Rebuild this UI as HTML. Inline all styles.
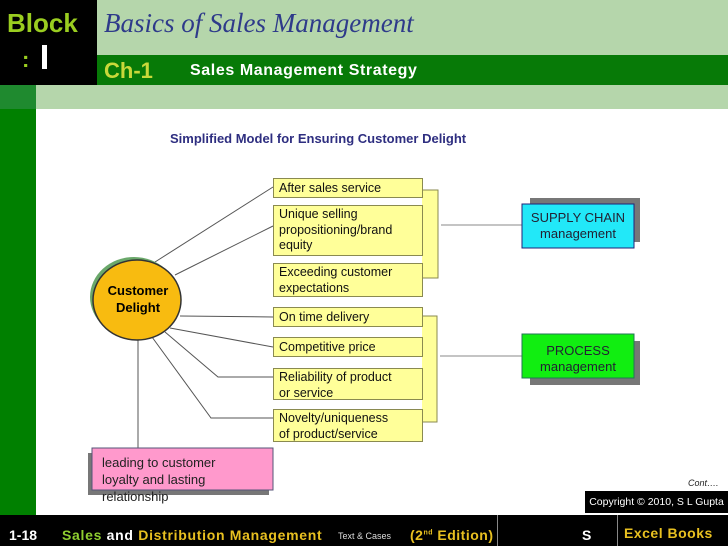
<!DOCTYPE html>
<html><head><style>
body{margin:0;width:728px;height:546px;overflow:hidden;position:relative;background:#fff;font-family:"Liberation Sans",sans-serif}
.a{position:absolute}
.box{position:absolute;background:#ffff99;border:1px solid #8a8a50;font-size:12.5px;line-height:15.5px;padding-left:5px;box-sizing:border-box;color:#111}
.f{position:absolute;top:527px;font-size:14px;font-weight:bold;white-space:nowrap}
</style></head><body>
<div class="a" style="left:0;top:0;width:728px;height:109px;background:#b5d6ab"></div>
<div class="a" style="left:0;top:0;width:97px;height:85px;background:#000"></div>
<div class="a" style="left:97px;top:55px;width:631px;height:30px;background:#077a07"></div>
<div class="a" style="left:0;top:85px;width:36px;height:24px;background:#1f8a2f"></div>
<div class="a" style="left:0;top:109px;width:36px;height:406px;background:#008000"></div>
<div class="a" style="left:7px;top:8px;font-size:26px;font-weight:bold;color:#9acd20">Block</div>
<div class="a" style="left:22px;top:47px;font-size:22px;font-weight:bold;color:#9acd20">:</div>
<div class="a" style="left:42px;top:45px;width:5px;height:24px;background:#fff"></div>
<div class="a" style="left:104px;top:8px;font-size:27px;font-style:italic;font-family:'Liberation Serif',serif;color:#2e3a8a">Basics of Sales Management</div>
<div class="a" style="left:104px;top:58px;font-size:22px;font-weight:bold;color:#c8d83a">Ch-1</div>
<div class="a" style="left:190px;top:62px;font-size:16px;font-weight:bold;color:#fff;letter-spacing:0.6px">Sales Management Strategy</div>
<div class="a" style="left:170px;top:131px;font-size:13px;font-weight:bold;color:#2e2e80">Simplified Model for Ensuring Customer Delight</div>

<svg class="a" style="left:0;top:0" width="728" height="546">
<g stroke="#555" stroke-width="1" fill="none">
<line x1="155" y1="262" x2="273" y2="187"/>
<line x1="175" y1="275" x2="273" y2="226"/>
<line x1="180" y1="316" x2="273" y2="317"/>
<line x1="170" y1="328" x2="273" y2="347"/>
<polyline points="165,332 218,377 273,377"/>
<polyline points="152,337 211,418 273,418"/>
<line x1="138" y1="340" x2="138" y2="448"/>
<line x1="441" y1="225" x2="522" y2="225" stroke="#888"/>
<line x1="440" y1="356" x2="522" y2="356" stroke="#888"/>
</g>
<path d="M422,190 H438 V278 H422" fill="#ffff99" stroke="#8a8a50"/>
<path d="M422,316 H437 V422 H422" fill="#ffff99" stroke="#8a8a50"/>
<ellipse cx="134" cy="297" rx="44" ry="40" fill="#6aa86a"/>
<ellipse cx="137" cy="300" rx="44" ry="40" fill="#f8bb10" stroke="#333" stroke-width="1.5"/>
<rect x="530" y="198" width="110" height="44" fill="#777"/>
<rect x="522" y="204" width="112" height="44" fill="#22e8f8" stroke="#227"/>
<rect x="530" y="341" width="110" height="44" fill="#777"/>
<rect x="522" y="334" width="112" height="44" fill="#11ee11" stroke="#275"/>
<rect x="88" y="453" width="181" height="42" fill="#777"/>
<rect x="92" y="448" width="181" height="42" fill="#ff99cc" stroke="#557"/>
</svg>
<div class="a" style="left:93px;top:282px;width:90px;text-align:center;font-size:13px;font-weight:bold;line-height:17px">Customer<br>Delight</div>
<div class="a" style="left:522px;top:210px;width:112px;text-align:center;font-size:13px;line-height:16px;color:#223">SUPPLY CHAIN<br>management</div>
<div class="a" style="left:522px;top:343px;width:112px;text-align:center;font-size:13px;line-height:16px;color:#223">PROCESS<br>management</div>
<div class="box" style="left:273px;top:178px;width:150px;height:20px;padding-top:2px">After sales service</div>
<div class="box" style="left:273px;top:205px;width:150px;height:51px;padding-top:1px">Unique selling<br>propositioning/brand<br>equity</div>
<div class="box" style="left:273px;top:263px;width:150px;height:34px;padding-top:1px">Exceeding customer<br>expectations</div>
<div class="box" style="left:273px;top:307px;width:150px;height:20px;padding-top:2px">On time delivery</div>
<div class="box" style="left:273px;top:337px;width:150px;height:20px;padding-top:2px">Competitive price</div>
<div class="box" style="left:273px;top:368px;width:150px;height:32px;padding-top:1px">Reliability of product<br>or service</div>
<div class="box" style="left:273px;top:409px;width:150px;height:33px;padding-top:1px">Novelty/uniqueness<br>of product/service</div>
<div class="a" style="left:102px;top:454px;font-size:13px;line-height:17px;color:#222">leading to customer<br>loyalty and lasting<br>relationship</div>
<div class="a" style="left:688px;top:478px;font-size:9px;font-style:italic;color:#222">Cont….</div>
<div class="a" style="left:585px;top:491px;width:143px;height:22px;background:#000;color:#fff;font-size:10.5px;line-height:22px;text-align:center">Copyright © 2010, S L Gupta</div>
<div class="a" style="left:0;top:515px;width:728px;height:31px;background:#000"></div>
<div class="a" style="left:497px;top:515px;width:1px;height:31px;background:#888"></div>
<div class="a" style="left:617px;top:515px;width:1px;height:31px;background:#888"></div>
<div class="f" style="left:9px;color:#fff">1-18</div>
<div class="f" style="left:62px;color:#fff;letter-spacing:0.7px"><span style="color:#8fcf30">Sales</span> and <span style="color:#e8c020">Distribution Management</span></div>
<div class="f" style="left:338px;top:531px;font-size:9px;font-weight:normal;color:#ddd">Text &amp; Cases</div>
<div class="f" style="left:410px;color:#e8c020;letter-spacing:0.5px">(2<sup style="font-size:7px">nd</sup> Edition)</div>
<div class="a" style="left:582px;top:527px;font-size:14px;font-weight:bold;color:#fff">S</div>
<div class="a" style="left:624px;top:525px;font-size:14px;font-weight:bold;color:#e8c020;letter-spacing:0.5px">Excel Books</div>
</body></html>
